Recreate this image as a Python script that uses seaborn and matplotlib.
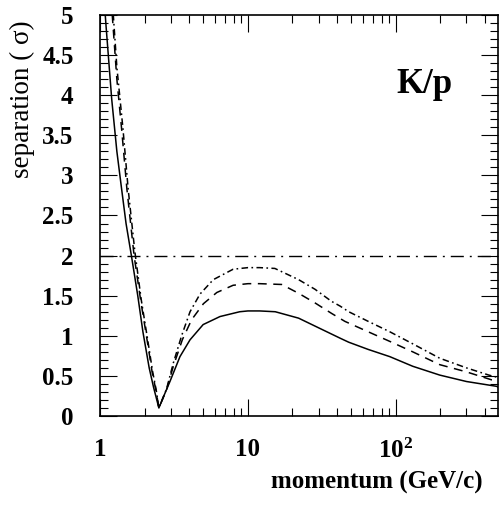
import numpy as np
import pandas as pd
import seaborn as sns
import matplotlib
matplotlib.use("Agg")
import matplotlib.pyplot as plt
from matplotlib.ticker import MultipleLocator, LogLocator, FixedLocator, FixedFormatter, FuncFormatter, NullFormatter

# K/p separation versus momentum for three configurations
p_solid = [1.0, 1.1, 1.2, 1.3, 1.4, 1.5, 1.63, 1.8, 1.95, 2.15, 2.3, 2.5, 2.7, 2.97, 3.47,
           4.06, 4.98, 6.47, 8.8, 10, 12, 15.3, 22, 30, 42, 48, 65, 91, 130, 198, 300, 480, 490]
sep_solid = [5.9, 4.85, 3.95, 3.3, 2.83, 2.4, 2.0, 1.5, 1.05, 0.6, 0.36, 0.1, 0.25, 0.43, 0.74,
             0.95, 1.14, 1.24, 1.30, 1.31, 1.31, 1.30, 1.22, 1.10, 0.97, 0.92, 0.83, 0.74, 0.62, 0.51, 0.43, 0.37, 0.36]

p_dashed = [1.1, 1.15, 1.21, 1.3, 1.4, 1.52, 1.7, 1.88, 2.08, 2.25, 2.4, 2.5, 2.82, 3.13, 3.6,
            4.16, 5.0, 6.16, 7.94, 10, 12, 16.9, 22, 28.4, 36.7, 45.2, 65, 91, 130, 198, 300, 445, 490]
sep_dashed = [6.3, 5.6, 5.0, 4.2, 3.58, 2.83, 2.0, 1.45, 0.95, 0.55, 0.3, 0.1, 0.33, 0.62, 0.95,
              1.20, 1.40, 1.54, 1.63, 1.65, 1.65, 1.64, 1.53, 1.41, 1.28, 1.18, 1.05, 0.93, 0.80, 0.64, 0.55, 0.45, 0.44]

p_dashdot = [1.1, 1.15, 1.23, 1.3, 1.43, 1.55, 1.72, 1.9, 2.1, 2.27, 2.4, 2.5, 2.82, 3.13, 3.56,
             4.06, 4.74, 5.83, 7.94, 10, 12, 15.2, 22, 28.4, 36.7, 42, 48, 65, 91, 130, 198, 300, 425, 490]
sep_dashdot = [6.6, 5.7, 5.0, 4.35, 3.58, 2.83, 2.05, 1.45, 0.95, 0.55, 0.32, 0.1, 0.34, 0.66, 1.0,
               1.30, 1.52, 1.70, 1.83, 1.85, 1.85, 1.84, 1.70, 1.58, 1.43, 1.37, 1.30, 1.18, 1.05, 0.90, 0.72, 0.60, 0.51, 0.48]

threshold = 2.0
x_ticks = [1, 10, 100]
x_tick_labels = ["1", "10", r"$\mathbf{10^{2}}$"]

frames = []
for name, px, sy in [("solid", p_solid, sep_solid),
                     ("dashed", p_dashed, sep_dashed),
                     ("dashdot", p_dashdot, sep_dashdot)]:
    frames.append(pd.DataFrame({"momentum": px, "separation": sy, "curve": name}))
data = pd.concat(frames, ignore_index=True)

sns.set_style("ticks")
plt.rcParams["font.family"] = ["Liberation Serif", "DejaVu Serif"]
plt.rcParams["mathtext.fontset"] = "custom"
plt.rcParams["mathtext.rm"] = "Liberation Serif:bold"
plt.rcParams["mathtext.bf"] = "Liberation Serif:bold"
for key in ["text.color", "axes.labelcolor", "xtick.color", "ytick.color", "axes.edgecolor"]:
    plt.rcParams[key] = "black"

fig = plt.figure(figsize=(4.99, 5.07), dpi=100)
ax = fig.add_axes([100 / 499, (507 - 416) / 507, 398 / 499, (416 - 15) / 507])

sns.lineplot(data=data, x="momentum", y="separation", style="curve",
             style_order=["solid", "dashed", "dashdot"],
             dashes={"solid": "", "dashed": (5.8, 4.3), "dashdot": (4.3, 2.2, 1.1, 2.2)},
             color="black", linewidth=1.1, estimator=None, sort=False,
             legend=False, ax=ax)

ax.axhline(threshold, color="black", linewidth=1.0, dashes=(9.4, 4.3, 1.4, 4.3))

ax.set_xscale("log")
ax.set_xlim(1, 490)
ax.set_ylim(0, 5)

ax.xaxis.set_major_locator(FixedLocator(x_ticks))
ax.xaxis.set_major_formatter(FixedFormatter(x_tick_labels))
ax.xaxis.set_minor_locator(LogLocator(base=10, subs=np.arange(2, 10)))
ax.xaxis.set_minor_formatter(NullFormatter())
ax.yaxis.set_major_locator(MultipleLocator(0.5))
ax.yaxis.set_minor_locator(MultipleLocator(0.1))
ax.yaxis.set_major_formatter(FuncFormatter(lambda v, _: f"{v:g}"))

ax.tick_params(which="both", direction="in", top=True, right=True, width=0.8, color="black")
ax.tick_params(which="major", length=12)
ax.tick_params(which="minor", length=6)
ax.tick_params(axis="x", which="major", pad=16, labelsize=18)
ax.tick_params(axis="y", which="major", pad=19, labelsize=18)
for lab in ax.get_xticklabels() + ax.get_yticklabels():
    lab.set_fontweight("bold")

for s in ax.spines.values():
    s.set_linewidth(1.2)
    s.set_color("black")

ax.set_xlabel("momentum (GeV/c)", fontsize=18, fontweight="bold")
ax.xaxis.label.set_horizontalalignment("right")
ax.xaxis.label.set_verticalalignment("center")
ax.xaxis.set_label_coords((483 - 100) / 398, -(482 - 416) / 401)

ax.set_ylabel("separation ( σ)", fontsize=19.5)
ax.yaxis.label.set_verticalalignment("center")
ax.yaxis.label.set_horizontalalignment("right")
ax.yaxis.set_label_coords(-(100 - 22) / 398, (416 - 20) / 401)

ax.text((424 - 100) / 398, (416 - 93) / 401, "K/p", transform=ax.transAxes,
        fontsize=25, fontweight="bold", ha="center", va="baseline")

fig.savefig("out.png", dpi=100)
